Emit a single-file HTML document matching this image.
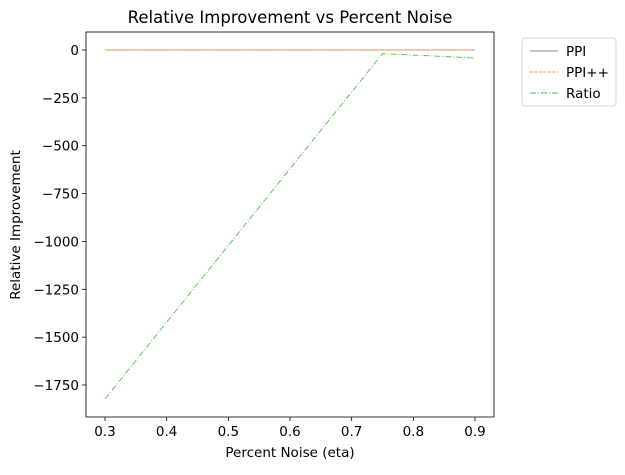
<!DOCTYPE html>
<html><head><meta charset="utf-8"><style>
body{margin:0;background:#fff;}
svg text{font-family:"DejaVu Sans","Liberation Sans",sans-serif;fill:#000;}
</style></head><body>
<svg id="c" width="625" height="470" xmlns="http://www.w3.org/2000/svg"></svg>
<script>
const xVals=[0.3,0.45,0.6,0.75,0.9];
const ppi=[0,0,0,0,0];
const ppipp=[0,0,0,0,0];
const ratioX=[0.3,0.75,0.9];
const ratio=[-1823,-19,-42];
const xTicks=[0.3,0.4,0.5,0.6,0.7,0.8,0.9];
const yTicks=[0,-250,-500,-750,-1000,-1250,-1500,-1750];
const L=86,R=494,T=32,B=417;
const sx=v=>105+(v-0.3)*(475-105)/0.6;
const sy=v=>50-v*(335/1750);
const svg=document.getElementById('c');
const NS='http://www.w3.org/2000/svg';
function mk(t,a,txt){const e=document.createElementNS(NS,t);for(const k in a)e.setAttribute(k,a[k]);if(txt!==undefined)e.textContent=txt;svg.appendChild(e);return e;}
let e;
e=mk('text',{x:290,y:23,'font-size':16.5,'text-anchor':'middle'},'Relative Improvement vs Percent Noise');


xTicks.forEach(t=>{const x=sx(t);
e=mk('line',{x1:x,x2:x,y1:B,y2:B+4,stroke:'#000','stroke-width':0.8});


e=mk('text',{x:x,y:B+19,'font-size':13.5,'text-anchor':'middle'},t.toFixed(1));

});
yTicks.forEach(t=>{const y=sy(t);
e=mk('line',{x1:L-4,x2:L,y1:y,y2:y,stroke:'#000','stroke-width':0.8});


e=mk('text',{x:L-7,y:y+5,'font-size':13.5,'text-anchor':'end'},t===0?'0':'−'+Math.abs(t));

});
e=mk('text',{x:290,y:457,'font-size':13.5,'text-anchor':'middle'},'Percent Noise (eta)');


e=mk('text',{x:20,y:225,'font-size':13.5,'text-anchor':'middle',transform:'rotate(-90 20 225)'},'Relative Improvement');


function line(xs,ys,col,dash,name){const p=xs.map((x,i)=>sx(x).toFixed(1)+','+sy(ys[i]).toFixed(1)).join(' ');
const a={points:p,fill:'none',stroke:col,'stroke-width':0.9};if(dash)a['stroke-dasharray']=dash;
e=mk('polyline',a);

}
line(xVals,ppi,'#8a9aae',null,'ppi-line');
line(xVals,ppipp,'#ff9a30','3,1.5','ppipp-line');
line(ratioX,ratio,'#4cbf4c','6,2,1,2','ratio-line');
e=mk('rect',{x:L,y:T,width:R-L,height:B-T,fill:'none',stroke:'#000','stroke-width':0.8});


e=mk('rect',{x:522,y:38,width:94,height:68,rx:3,fill:'#fff',stroke:'#ccc','stroke-width':0.8});


[['PPI','#888',null],['PPI++','#ff9a30','3,1.5'],['Ratio','#4cbf4c','6,2,1,2']].forEach((d,i)=>{const y=51+i*21;
const a={x1:530,x2:558,y1:y,y2:y,stroke:d[1],'stroke-width':0.9};if(d[2])a['stroke-dasharray']=d[2];
e=mk('line',a);


e=mk('text',{x:566,y:y+5,'font-size':13.5},d[0]);

});
</script>
</body></html>
